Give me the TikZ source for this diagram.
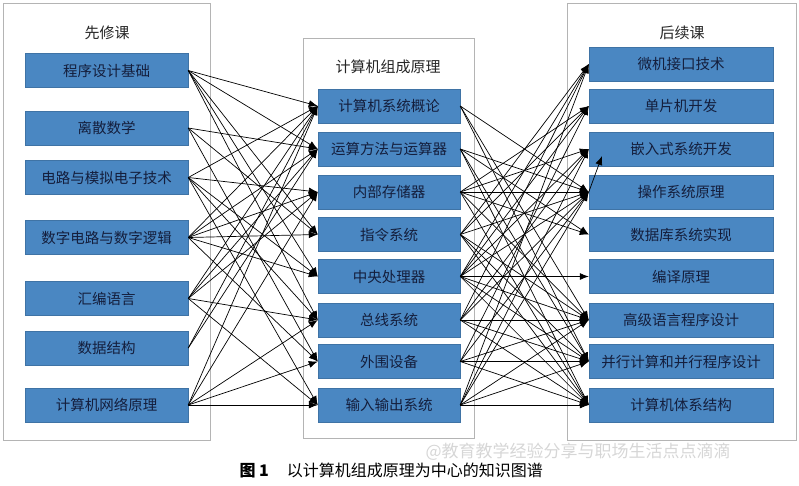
\documentclass[tikz,border=0pt]{standalone}
\usepackage{fontspec}
\newfontfamily\cjk{Noto Sans CJK SC}
\usetikzlibrary{arrows.meta}
\definecolor{boxblue}{RGB}{74,135,194}
\definecolor{boxtext}{RGB}{20,30,60}
\definecolor{frame}{RGB}{180,180,180}
\begin{document}
\begin{tikzpicture}[x=1pt,y=-1pt,
  panel/.style={draw=frame,line width=0.8pt,fill=white},
  course/.style={fill=boxblue,draw=boxblue!85!black,line width=0.5pt,minimum height=34pt,inner sep=0pt,text=boxtext,font=\cjk\fontsize{14.5}{15}\selectfont},
  lbox/.style={course,minimum width=163pt},
  mbox/.style={course,minimum width=142pt},
  rbox/.style={course,minimum width=184pt},
  ttl/.style={font=\cjk\fontsize{15}{15}\selectfont,text=black!85},
  arr/.style={-{Latex[length=9pt,width=7pt]},line width=0.7pt,black}]
\useasboundingbox (0,0) rectangle (799,485);
% panels
\draw[panel] (3,3) rectangle (210,440);
\draw[panel] (303,38) rectangle (474,438);
\draw[panel] (567,3) rectangle (796,440);
\node[ttl] (tl) at (107,33) {先修课};
\node[ttl] (tm) at (388,67) {计算机组成原理};
\node[ttl] (tr) at (682,33) {后续课};
% left boxes
\node[lbox] (L1) at (106.5,70.5) {程序设计基础};
\node[lbox] (L2) at (106.5,128) {离散数学};
\node[lbox] (L3) at (106.5,177.5) {电路与模拟电子技术};
\node[lbox] (L4) at (106.5,237.5) {数字电路与数字逻辑};
\node[lbox] (L5) at (106.5,298.5) {汇编语言};
\node[lbox] (L6) at (106.5,348) {数据结构};
\node[lbox] (L7) at (106.5,405) {计算机网络原理};
% middle boxes
\node[mbox] (M1) at (389,106) {计算机系统概论};
\node[mbox] (M2) at (389,149) {运算方法与运算器};
\node[mbox] (M3) at (389,192) {内部存储器};
\node[mbox] (M4) at (389,234.5) {指令系统};
\node[mbox] (M5) at (389,276.5) {中央处理器};
\node[mbox] (M6) at (389,320) {总线系统};
\node[mbox] (M7) at (389,361.5) {外围设备};
\node[mbox] (M8) at (389,405) {输入输出系统};
% right boxes
\node[rbox] (R1) at (681,64) {微机接口技术};
\node[rbox] (R2) at (681,106) {单片机开发};
\node[rbox] (R3) at (681,149) {嵌入式系统开发};
\node[rbox] (R4) at (681,192) {操作系统原理};
\node[rbox] (R5) at (681,234.5) {数据库系统实现};
\node[rbox] (R6) at (681,276.5) {编译原理};
\node[rbox] (R7) at (681,320) {高级语言程序设计};
\node[rbox] (R8) at (681,361.5) {并行计算和并行程序设计};
\node[rbox] (R9) at (681,405) {计算机体系结构};
% left -> middle
\foreach \s/\t in {L1/M1,L1/M2,L1/M4,L1/M5,L1/M6,
                   L2/M2,L2/M4,L2/M7,
                   L3/M1,L3/M3,L3/M5,L3/M6,L3/M8,
                   L4/M1,L4/M2,L4/M3,L4/M4,L4/M5,L4/M7,
                   L5/M1,L5/M2,L5/M3,L5/M6,L5/M8,
                   L6/M1,L6/M2,
                   L7/M1,L7/M3,L7/M6,L7/M7,L7/M8}
  \draw[arr] (\s.east) -- (\t.west);
% middle -> right
\foreach \s/\t in {M1/R4,M1/R7,M1/R8,
                   M2/R4,M2/R5,M2/R8,M2/R9,
                   M3/R2,M3/R3,M3/R4,M3/R5,M3/R7,M3/R9,
                   M4/R1,M4/R2,M4/R4,M4/R7,M4/R8,M4/R9,
                   M5/R1,M5/R2,M5/R3,M5/R4,M5/R6,M5/R7,M5/R8,M5/R9,
                   M6/R1,M6/R3,M6/R4,M6/R7,M6/R8,M6/R9,
                   M7/R2,M7/R4,M7/R7,M7/R8,M7/R9,
                   M8/R1,M8/R3,M8/R4,M8/R7,M8/R8,M8/R9}
  \draw[arr] (\s.east) -- (\t.west);
\coordinate (r3in) at (602,156);
\draw[arr] (R4.west) -- (r3in);
% caption
\node[font=\cjk\fontsize{16}{16}\selectfont,anchor=west] (cap) at (236,470) {\textbf{图 1}\hspace{18pt}以计算机组成原理为中心的知识图谱};
\node[font=\cjk\fontsize{17}{17}\selectfont,text=black!16,anchor=west] (wm) at (422,452) {@教育教学经验分享与职场生活点点滴滴};
\end{tikzpicture}
\end{document}
